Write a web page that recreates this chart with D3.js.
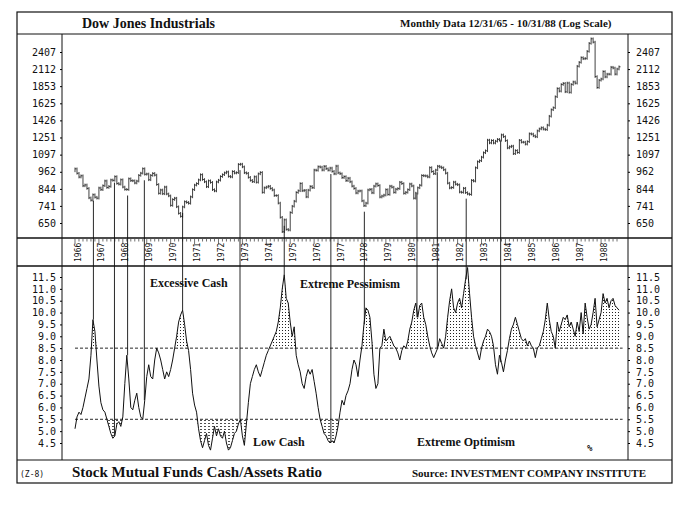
<!DOCTYPE html>
<html><head><meta charset="utf-8">
<script src="https://cdn.jsdelivr.net/npm/d3@7"></script>
<style>body{margin:0;background:#fff}</style></head><body>
<svg id="c" width="688" height="505"></svg>
<script>
// DJIA monthly closes, Dec 1965 .. Oct 1988
const djStart = 1965 + 11/12;
const djia = [969,
984,951,924,933,864,870,847,788,774,807,792,786,
850,839,865,897,853,860,904,901,927,880,875,905,
856,841,840,912,899,898,883,896,936,952,985,944,
946,905,936,950,938,873,816,837,813,856,812,800,
744,778,786,736,700,684,735,765,761,756,794,839,
869,879,904,941,907,891,858,898,887,839,831,890,
902,928,941,954,961,929,925,964,953,956,1018,1020,
999,955,951,922,901,892,926,888,947,957,822,851,
856,861,847,837,802,802,757,679,608,666,619,616,
704,739,768,821,832,879,832,835,794,836,860,852,
975,973,1000,997,975,1003,985,974,990,965,947,1005,
954,948,920,927,899,916,891,862,847,818,830,831,
770,742,757,837,841,819,862,877,866,793,799,805,
839,809,862,855,822,842,846,888,879,816,822,839,
876,863,786,817,851,868,935,933,932,925,993,964,
948,975,1004,998,992,977,952,882,850,853,889,875,
871,824,822,848,820,812,809,901,896,992,1039,1047,
1076,1113,1130,1226,1200,1222,1199,1216,1233,1225,1276,1259,
1221,1155,1165,1171,1105,1132,1115,1224,1207,1207,1189,1212,
1287,1284,1267,1258,1316,1336,1348,1334,1329,1375,1472,1547,
1571,1709,1819,1784,1877,1893,1775,1898,1768,1878,1914,1896,
2158,2224,2305,2286,2292,2419,2572,2663,2596,1994,1834,1939,
1958,2072,1989,2032,2031,2142,2129,2032,2113,2149];
// Cash/assets ratio monthly, Jan 1966 .. Oct 1988
const ratioStart = 1966;
const ratio = [
5.1,5.6,5.8,5.7,6.0,6.4,6.8,7.2,8.2,9.7,9.2,8.0,
6.9,6.2,5.9,5.8,5.5,5.2,4.9,4.7,4.8,5.3,5.4,5.2,
5.6,7.0,8.2,7.2,6.0,5.9,6.3,6.6,6.0,5.6,5.5,6.3,
7.3,7.8,7.3,7.2,8.0,8.5,8.3,8.0,7.6,7.2,7.5,7.3,
7.6,8.0,8.5,9.0,9.6,9.9,10.1,9.5,8.8,8.4,7.6,6.6,
6.1,5.8,5.1,4.6,4.3,4.6,4.9,4.4,4.2,4.7,5.2,4.8,
5.1,4.8,4.7,5.0,4.5,4.2,4.3,4.6,4.9,5.0,5.3,5.5,
4.8,4.4,5.3,6.2,7.0,7.3,7.6,7.8,7.5,7.3,7.6,7.9,
8.2,8.4,8.6,8.8,9.0,9.2,9.6,10.2,11.0,11.6,10.6,10.4,
9.6,9.0,9.4,8.2,7.8,7.5,7.0,6.8,7.3,7.6,7.4,7.6,
7.1,6.6,6.0,5.5,5.2,4.9,4.8,4.6,4.5,4.6,4.5,4.8,
5.2,5.8,6.3,6.1,6.5,6.7,7.0,7.6,8.0,7.8,7.3,8.0,
8.6,9.5,10.2,10.1,9.8,8.8,7.4,6.8,7.0,8.5,8.6,9.3,
8.8,8.9,9.0,8.8,8.6,8.5,8.3,8.0,8.4,8.6,8.5,8.8,
9.3,9.6,10.1,10.4,9.8,10.3,10.4,9.8,9.5,9.0,8.6,8.3,
8.1,8.3,8.5,8.9,8.7,8.5,9.0,9.8,10.5,11.0,10.2,10.0,
10.4,10.6,10.2,10.8,11.4,11.9,10.8,9.8,9.0,8.6,8.3,8.0,
8.5,8.8,9.0,9.3,9.2,9.0,8.6,7.8,7.4,8.2,7.9,7.5,
8.0,8.4,8.9,9.3,9.5,9.8,9.5,9.2,8.9,8.8,8.9,8.6,
8.8,8.6,8.5,8.1,8.5,8.6,8.9,9.2,9.7,10.4,9.7,9.2,
9.0,8.5,9.6,9.2,9.5,9.8,9.7,9.9,9.4,9.6,9.3,9.0,
9.6,9.2,10.0,9.1,10.4,9.8,9.3,9.5,10.0,10.6,9.4,9.7,
10.0,10.8,10.4,10.6,10.2,10.5,10.6,10.3,10.2,10.1];
const djTicks = [650,741,844,962,1097,1251,1426,1625,1853,2112,2407];
const ratioTicks = [4.5,5.0,5.5,6.0,6.5,7.0,7.5,8.0,8.5,9.0,9.5,10.0,10.5,11.0,11.5];
const years = d3.range(1966,1989);
const eventDates = [1966.77,1967.65,1968.2,1968.9,1970.5,1972.9,1974.75,1976.7,1978.1,1980.3,1981.15,1982.36,1983.8];
const highLevel = 8.5, lowLevel = 5.5;

const svg = d3.select("#c");
const X = d3.scaleLinear().domain([1966,1989]).range([75,625]);
const Y1 = d3.scaleLog().domain([650,2407]).range([223,52]);
const Y2 = d3.scaleLinear().domain([4.5,11.5]).range([443,277]);
const serif = "'Liberation Serif','Times New Roman',serif";
const mono = "'DejaVu Sans Mono',monospace";

const defs = svg.append("defs");
const pd = defs.append("pattern").attr("id","dots").attr("width",3).attr("height",3).attr("patternUnits","userSpaceOnUse");
pd.append("rect").attr("width",1).attr("height",1).attr("fill","#222");
const ph = defs.append("pattern").attr("id","hatch").attr("width",4).attr("height",3).attr("patternUnits","userSpaceOnUse");
ph.append("rect").attr("width",2).attr("height",0.8).attr("fill","#222");

// frame
const g = svg.append("g").attr("stroke","#111").attr("fill","none");
g.append("rect").attr("x",17).attr("y",12).attr("width",655).attr("height",471).attr("stroke-width",1.2);
[34,238,266,460].forEach(y=>g.append("line").attr("x1",17).attr("x2",672).attr("y1",y).attr("y2",y).attr("stroke-width",y==238||y==266?1.5:1));
[62,628].forEach(x=>g.append("line").attr("x1",x).attr("x2",x).attr("y1",34).attr("y2",460));

// header/footer text
const T=(x,y,s,sz,opt={})=>svg.append("text").attr("x",x).attr("y",y).text(s).attr("font-family",opt.f||serif).attr("font-size",sz).attr("font-weight",opt.w||"bold").attr("text-anchor",opt.a||"start").attr("fill","#111");
T(82,28,"Dow Jones Industrials",14);
T(400,27,"Monthly Data 12/31/65 - 10/31/88 (Log Scale)",11);
T(20,477,"(Z-8)",8,{f:mono,w:"normal"});
T(72,477,"Stock Mutual Funds Cash/Assets Ratio",15);
T(412,477,"Source: INVESTMENT COMPANY INSTITUTE",11);
T(150,287,"Excessive Cash",12);
T(300,288,"Extreme Pessimism",12);
T(253,446,"Low Cash",12);
T(417,446,"Extreme Optimism",12);
T(587,451,"%",9,{f:mono});

// axes
const ax1L = svg.append("g").attr("transform","translate(62,0)").call(d3.axisLeft(Y1).tickValues(djTicks).tickFormat(d3.format("d")).tickSize(2));
const ax1R = svg.append("g").attr("transform","translate(628,0)").call(d3.axisRight(Y1).tickValues(djTicks).tickFormat(d3.format("d")).tickSize(2));
const ax2L = svg.append("g").attr("transform","translate(62,0)").call(d3.axisLeft(Y2).tickValues(ratioTicks).tickFormat(d3.format(".1f")).tickSize(2));
const ax2R = svg.append("g").attr("transform","translate(628,0)").call(d3.axisRight(Y2).tickValues(ratioTicks).tickFormat(d3.format(".1f")).tickSize(2));
[ax1L,ax1R,ax2L,ax2R].forEach(a=>{a.select(".domain").remove();a.selectAll("text").attr("font-family",mono).attr("font-size",10).attr("fill","#111");});
ax1L.selectAll("text").attr("x",-6);ax2L.selectAll("text").attr("x",-6);
ax1R.selectAll("text").attr("x",8);ax2R.selectAll("text").attr("x",8);

// year strip
const months = d3.range(0,23*12-2,2).map(i=>1966+i/12);
svg.append("g").selectAll("line").data(months).join("line")
 .attr("x1",d=>X(d)).attr("x2",d=>X(d)).attr("y1",239).attr("y2",d=>Math.abs(d-Math.round(d))<1e-6?244:241.5).attr("stroke","#111").attr("stroke-width",0.6);
svg.append("g").selectAll("text").data(years).join("text")
 .attr("transform",d=>`translate(${X(d)+5.5},262) rotate(-90)`).text(d=>d)
 .attr("font-family",mono).attr("font-size",8).attr("fill","#111");

// event lines
svg.append("g").selectAll("line").data(eventDates).join("line")
 .attr("x1",d=>X(d)).attr("x2",d=>X(d))
 .attr("y1",d=>{const i=Math.round((d-djStart)*12);return Y1(djia[i])+6;})
 .attr("y2",d=>{const i=Math.round((d-ratioStart)*12);return Y2(ratio[i]);})
 .attr("stroke","#111").attr("stroke-width",0.9);

// DJIA bars
const bars = svg.append("g").attr("stroke","#111").attr("stroke-width",0.8);
djia.forEach((v,i)=>{ if(i==0) return;
  const t=djStart+i/12, p=djia[i-1];
  const lo=Math.min(v,p)*0.99, hi=Math.max(v,p)*1.01;
  bars.append("line").attr("x1",X(t)).attr("x2",X(t)).attr("y1",Y1(lo)).attr("y2",Y1(hi));
  bars.append("line").attr("x1",X(t)).attr("x2",X(t)+1.5).attr("y1",Y1(v)).attr("y2",Y1(v));
});

// ratio areas
const rd = ratio.map((v,i)=>({t:ratioStart+i/12,v}));
svg.append("path").datum(rd).attr("fill","url(#dots)")
 .attr("d",d3.area().x(d=>X(d.t)).y0(Y2(highLevel)).y1(d=>Y2(Math.max(d.v,highLevel))));
svg.append("path").datum(rd).attr("fill","url(#hatch)")
 .attr("d",d3.area().x(d=>X(d.t)).y0(Y2(lowLevel)).y1(d=>Y2(Math.min(d.v,lowLevel))));
[highLevel,lowLevel].forEach(l=>svg.append("line").attr("x1",X(1966)).attr("x2",X(1988.9)).attr("y1",Y2(l)).attr("y2",Y2(l)).attr("stroke","#111").attr("stroke-dasharray","3,2").attr("stroke-width",0.9));
svg.append("path").datum(rd).attr("fill","none").attr("stroke","#111").attr("stroke-width",1)
 .attr("d",d3.line().x(d=>X(d.t)).y(d=>Y2(d.v)));
</script></body></html>
